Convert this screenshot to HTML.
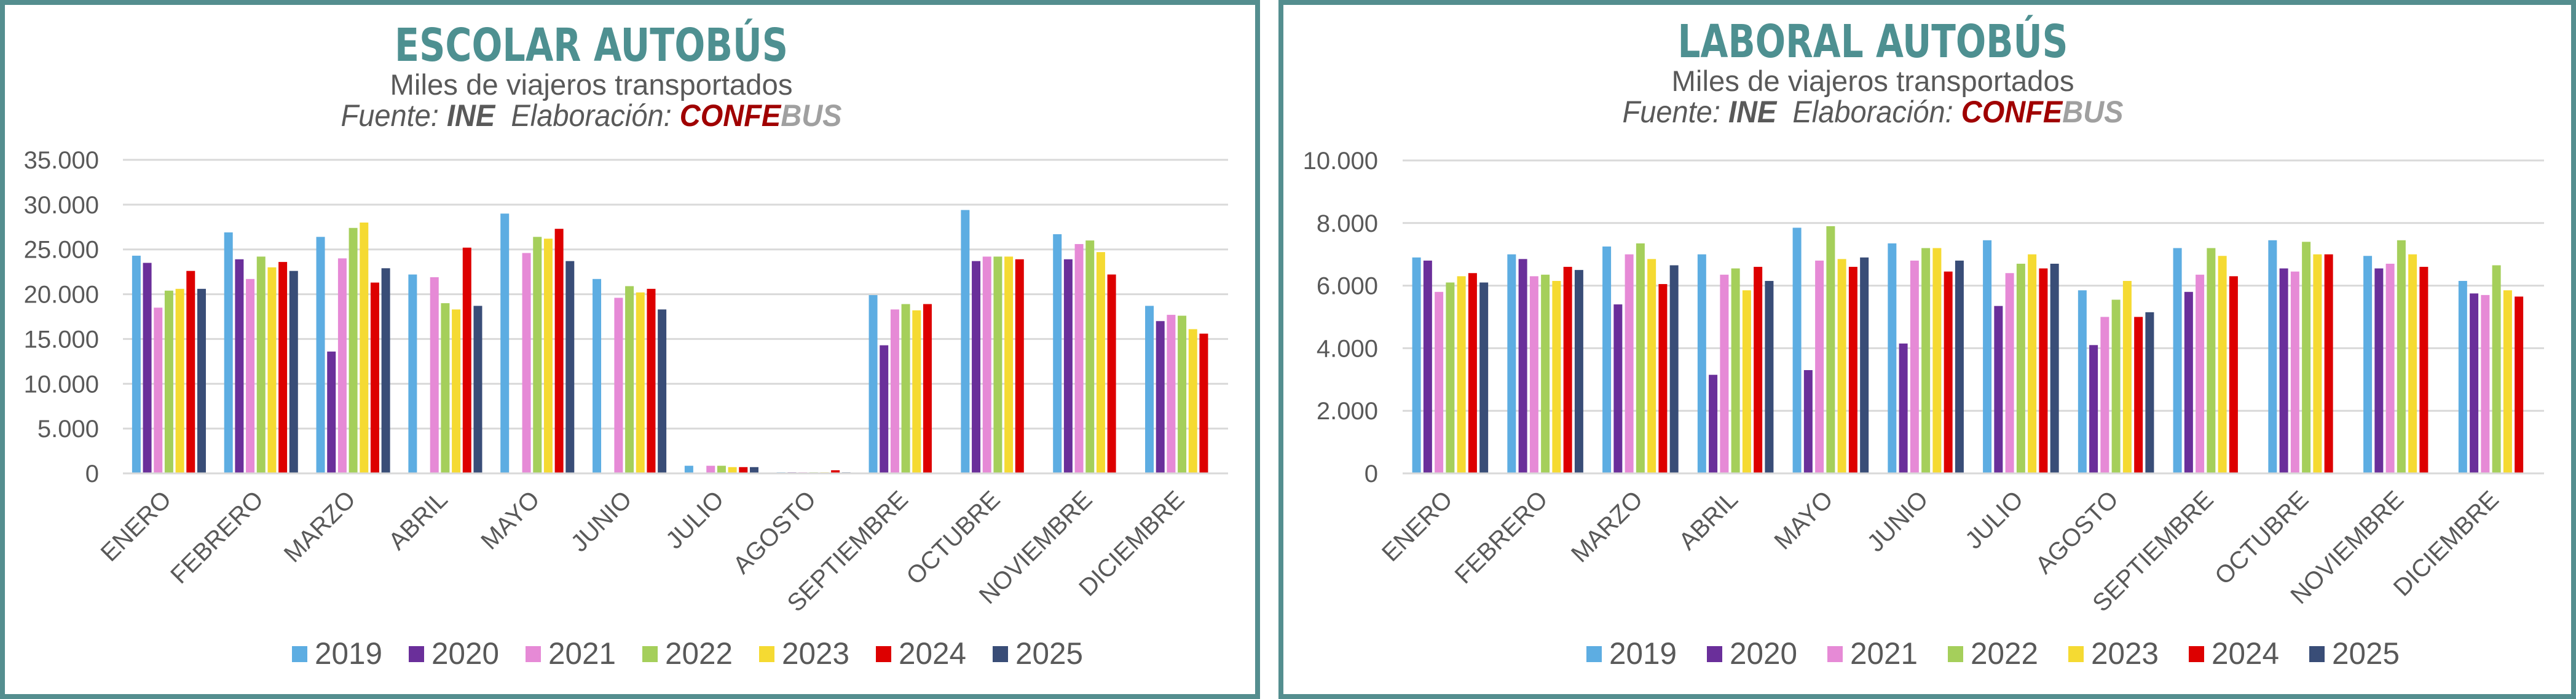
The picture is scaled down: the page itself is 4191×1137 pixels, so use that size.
<!DOCTYPE html>
<html><head><meta charset="utf-8"><style>
html,body{margin:0;padding:0;background:#fff;}
svg{display:block;}
</style></head><body>
<svg id="s" width="4191" height="1137" xmlns="http://www.w3.org/2000/svg" font-family="Liberation Sans, sans-serif"></svg>
<script>
const NS="http://www.w3.org/2000/svg";
const s=document.getElementById('s');
function el(t,a,txt){const e=document.createElementNS(NS,t);for(const k in a)e.setAttribute(k,a[k]);if(txt!==undefined)e.textContent=txt;s.appendChild(e);return e;}
const cols=['#5dade2','#6a2f9a','#e68ad6','#a5cf5b','#f5da32','#dd0000','#394d77'];
const years=['2019','2020','2021','2022','2023','2024','2025'];
const months=['ENERO','FEBRERO','MARZO','ABRIL','MAYO','JUNIO','JULIO','AGOSTO','SEPTIEMBRE','OCTUBRE','NOVIEMBRE','DICIEMBRE'];
const esc=[[24300,23500,18500,20400,20600,22600,20600],[26900,23900,21700,24200,23000,23600,22600],[26400,13600,24000,27400,28000,21300,22900],[22200,60,21900,19000,18300,25200,18700],[29000,60,24600,26400,26200,27300,23700],[21700,60,19600,20900,20200,20600,18300],[850,100,850,850,700,700,700],[120,120,120,120,120,350,120],[19900,14300,18300,18900,18200,18900],[29400,23700,24200,24200,24200,23900],[26700,23900,25600,26000,24700,22200],[18700,17000,17700,17600,16100,15600]];
const lab=[[6900,6800,5800,6100,6300,6400,6100],[7000,6850,6300,6350,6150,6600,6500],[7250,5400,7000,7350,6850,6050,6650],[7000,3150,6350,6550,5850,6600,6150],[7850,3300,6800,7900,6850,6600,6900],[7350,4150,6800,7200,7200,6450,6800],[7450,5350,6400,6700,7000,6550,6700],[5850,4100,5000,5550,6150,5000,5150],[7200,5800,6350,7200,6950,6300],[7450,6550,6450,7400,7000,7000],[6950,6550,6700,7450,7000,6600],[6150,5750,5700,6650,5850,5650]];
function panel(o){
  el('rect',{x:o.px+4,y:4,width:o.pw-8,height:1129,fill:'#fff',stroke:'#548e8f','stroke-width':8});
  el('text',{x:o.tc,y:o.ty,'text-anchor':'middle','font-family':'DejaVu Sans, sans-serif','font-weight':'bold','font-size':74,fill:'#4e9091',textLength:o.tl,lengthAdjust:'spacingAndGlyphs'},o.title);
  el('text',{x:o.tc,y:o.ty+55,'text-anchor':'middle','font-size':47,fill:'#595959',textLength:655,lengthAdjust:'spacingAndGlyphs'},'Miles de viajeros transportados');
  const t=el('text',{x:o.tc,y:o.ty+106,'text-anchor':'middle','font-size':50,'font-style':'italic',fill:'#595959',textLength:815,lengthAdjust:'spacingAndGlyphs'});
  t.innerHTML='Fuente: <tspan font-weight="bold">INE</tspan>\u00a0 Elaboración: <tspan font-weight="bold" fill="#a00000">CONFE</tspan><tspan font-weight="bold" fill="#a0a0a0">BUS</tspan>';
  const top=o.top,bot=770,n=o.ticks.length-1;
  o.ticks.forEach((v,i)=>{const y=bot-(bot-top)*i/n;
    el('line',{x1:o.x0,x2:o.x1,y1:y,y2:y,stroke:'#d9d9d9','stroke-width':3});
    el('text',{x:o.lx,y:y+14,'text-anchor':'end','font-size':40,fill:'#595959'},v);});
  const cw=(o.x1-o.x0)/12, slot=cw*0.118, bw=14;
  o.data.forEach((g,m)=>{const gl=o.x0+m*cw+(cw-slot*7)/2;
    g.forEach((v,k)=>{const h=(bot-top)*v/o.max;
      el('rect',{x:gl+k*slot+(slot-bw)/2,y:bot-h,width:bw,height:h,fill:cols[k]});});
    const cx=o.x0+m*cw+cw/2+6;
    el('text',{x:cx,y:815,'text-anchor':'end','font-size':40,fill:'#595959',transform:`rotate(-45 ${cx} 815)`},months[m]);});
  el('line',{x1:o.x0,x2:o.x1,y1:bot,y2:bot,stroke:'#d9d9d9','stroke-width':3});
  years.forEach((y,i)=>{const x=o.lg+i*o.ls;
    el('rect',{x:x,y:1051,width:25,height:26,fill:cols[i]});
    el('text',{x:x+37,y:1080,'font-size':50,fill:'#595959',textLength:110,lengthAdjust:'spacingAndGlyphs'},y);});
}
panel({px:0,pw:2050,tc:962,ty:99,tl:640,title:'ESCOLAR AUTOBÚS',top:260,x0:200,x1:1998,lx:161,
  ticks:['0','5.000','10.000','15.000','20.000','25.000','30.000','35.000'],max:35000,data:esc,lg:475,ls:190});
panel({px:2080,pw:2111,tc:3047,ty:93,tl:635,title:'LABORAL AUTOBÚS',top:261,x0:2282,x1:4139,lx:2242,
  ticks:['0','2.000','4.000','6.000','8.000','10.000'],max:10000,data:lab,lg:2581,ls:196});
</script>
</body></html>
